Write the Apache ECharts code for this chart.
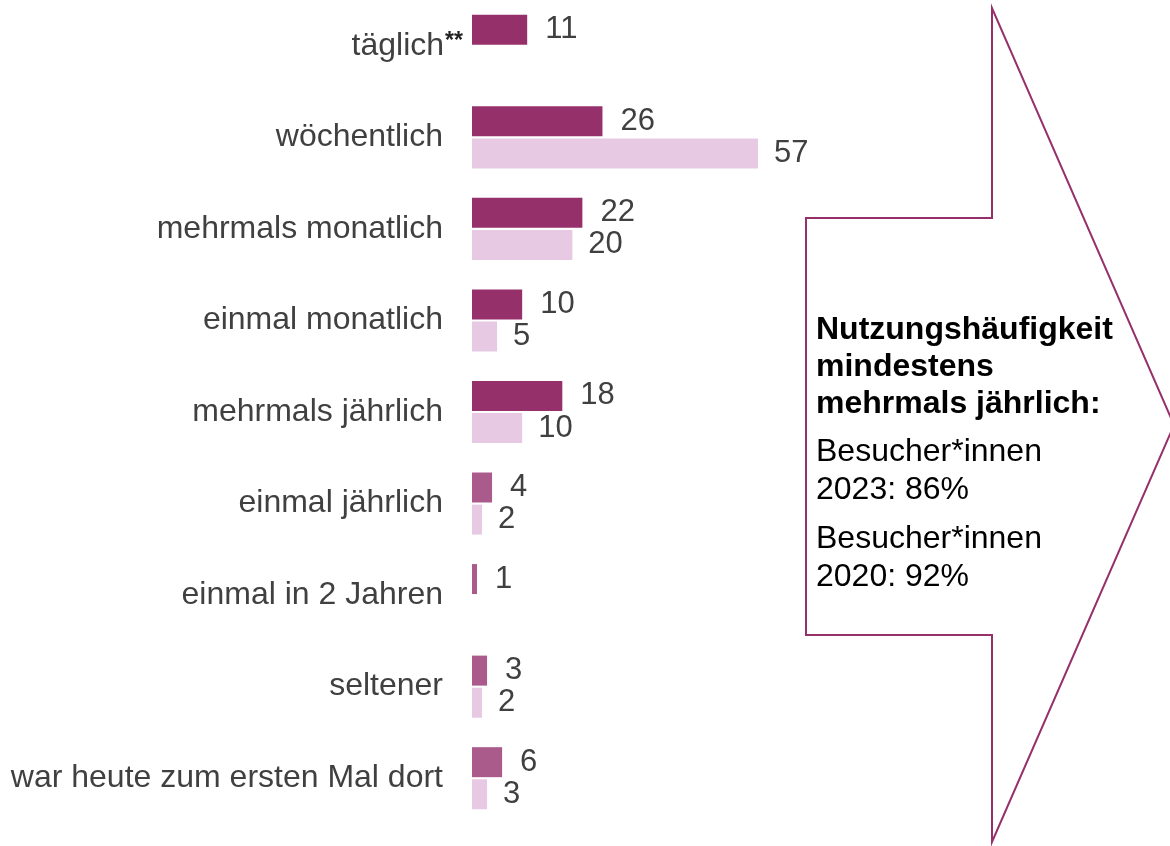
<!DOCTYPE html>
<html>
<head>
<meta charset="utf-8">
<script src="https://cdn.jsdelivr.net/npm/echarts@6/dist/echarts.min.js"></script>
<style>
  html, body { margin: 0; padding: 0; background: #fff; }
  #chart { width: 1170px; height: 846px; }
</style>
</head>
<body>
<div id="chart"></div>
<script>
const categories = ['täglich**', 'wöchentlich', 'mehrmals monatlich', 'einmal monatlich', 'mehrmals jährlich',
  'einmal jährlich', 'einmal in 2 Jahren', 'seltener', 'war heute zum ersten Mal dort']
const visitors2023 = [11, 26, 22, 10, 18, 4, 1, 3, 6]
const visitors2020 = ['-', 57, 20, 5, 10, 2, '-', 2, 3]
// kleine Fallzahlen werden heller dargestellt
const lowCase2023 = [false, false, false, false, false, true, true, true, true]

const boxTitle = ['Nutzungshäufigkeit', 'mindestens', 'mehrmals jährlich:']
const boxLines = [['Besucher*innen', '2023: 86%'], ['Besucher*innen', '2020: 92%']]

const dark = '#96306A'
const medium = '#AB5A8C'
const light = '#E7C9E3'
const textColor = '#404040'
const font = 'Liberation Sans, Arial, sans-serif'

const chart = echarts.init(document.getElementById('chart'))

const boxText = boxTitle.map(t => '{b|' + t + '}').join('\n') + '\n{gap|}\n' +
  boxLines.map(l => l.map(t => '{r|' + t + '}').join('\n')).join('\n{gap|}\n')

chart.setOption({
  backgroundColor: '#fff',
  animation: false,
  textStyle: { fontFamily: font },
  grid: {
    top: -5,
    left: 472,
    width: 286 * 60 / 57,
    height: 829
  },
  xAxis: {
    type: 'value',
    min: 0,
    max: 60,
    show: false
  },
  yAxis: {
    type: 'category',
    inverse: true,
    data: categories,
    axisLine: { show: false },
    axisTick: { show: false },
    axisLabel: {
      margin: 9,
      fontSize: 32,
      color: textColor,
      // die Sternchen ragen über die rechte Kante der übrigen Beschriftungen hinaus
      formatter: v => v.indexOf('**') > -1
        ? '{t|' + v.replace('**', '') + '}{s|**}'
        : '{n|' + v + '}',
      rich: {
        n: { fontSize: 32, color: textColor, padding: [0, 20, 0, 0] },
        t: { fontSize: 32, color: textColor },
        s: { fontSize: 23, fontWeight: 'bold', color: '#222', verticalAlign: 'top', padding: [0, 0, 0, 1] }
      }
    }
  },
  series: [{
    name: '2023',
    type: 'bar',
    barWidth: 30,
    barGap: '7%',
    data: visitors2023.map((v, i) => ({
      value: v,
      itemStyle: { color: lowCase2023[i] ? medium : dark }
    })),
    label: {
      show: true,
      position: 'right',
      distance: 18,
      fontSize: 31,
      color: textColor
    }
  }, {
    name: '2020',
    type: 'bar',
    barWidth: 30,
    barGap: '7%',
    itemStyle: { color: light },
    data: visitors2020,
    label: {
      show: true,
      position: 'right',
      distance: 16,
      fontSize: 31,
      color: textColor
    }
  }],
  graphic: [{
    type: 'polygon',
    shape: {
      points: [[806, 218], [992, 218], [992, 8], [1174, 425], [992, 842], [992, 635], [806, 635]]
    },
    style: { fill: '#fff', stroke: dark, lineWidth: 2 },
    z: 10
  }, {
    type: 'text',
    left: 816,
    top: 314,
    z: 11,
    style: {
      text: boxText,
      fill: '#000',
      font: '32px ' + font,
      rich: {
        b: { fontSize: 32, fontWeight: 'bold', fontFamily: font, lineHeight: 37, fill: '#000' },
        r: { fontSize: 32, fontFamily: font, lineHeight: 38, fill: '#000' },
        gap: { fontSize: 8, lineHeight: 11 }
      }
    }
  }]
})
</script>
</body>
</html>
